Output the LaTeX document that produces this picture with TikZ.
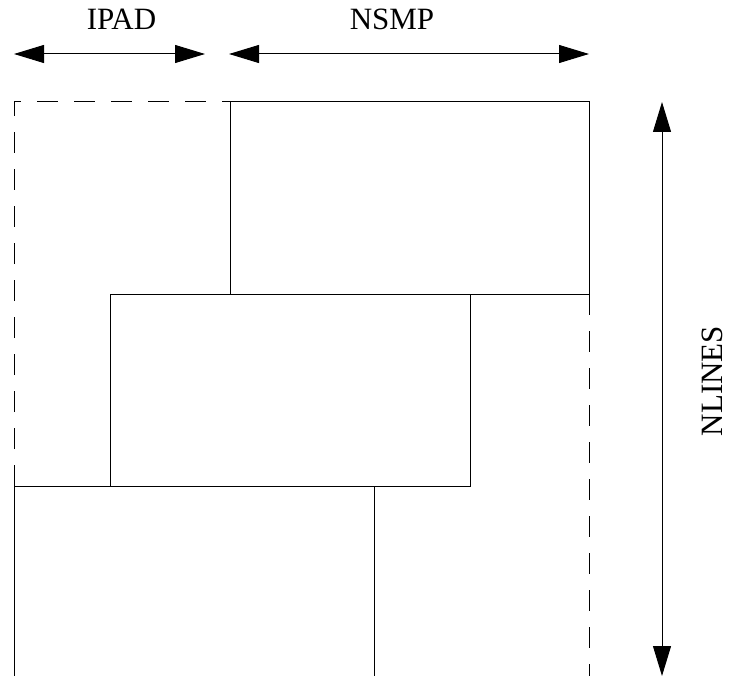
\documentclass[tikz,border=0pt]{standalone}
\usepackage{fontspec}
\setmainfont{Liberation Serif}
\usepackage{tikz}
\usetikzlibrary{arrows.meta}

\tikzset{
  dim/.style={{Triangle[length=30pt,width=18pt]}-{Triangle[length=30pt,width=18pt]}, line width=1pt},
  blk/.style={line width=1pt},
  pad/.style={line width=1pt, dash pattern=on 21pt off 16pt},
  lbl/.style={font=\fontsize{31}{36}\selectfont, inner sep=0pt, text depth=0pt}
}

\begin{document}
\begin{tikzpicture}[x=1pt,y=-1pt]
  \useasboundingbox (0,0) rectangle (730,676);

  % dimension arrows
  \coordinate (ipadL) at (14,54);
  \coordinate (ipadR) at (205,54);
  \coordinate (nsmpL) at (229,54);
  \coordinate (nsmpR) at (589,54);
  \coordinate (nlT) at (662,102);
  \coordinate (nlB) at (662,676);

  \draw[dim] (ipadL) -- (ipadR);
  \draw[dim] (nsmpL) -- (nsmpR);
  \draw[dim] (nlT) -- (nlB);

  \node[lbl] at (121.5,19.5) (ipad) {IPAD};
  \node[lbl] at (392,19.5) (nsmp) {NSMP};
  \node[lbl, rotate=90] at (712,381) (nlines) {NLINES};

  % padded area
  \draw[pad] (14,486) -- (14,102) -- (230,102);
  \draw[pad] (589,294) -- (589,676);

  % shifted lines
  \draw[blk] (230,102) rectangle (589,294);
  \draw[blk] (110,294) rectangle (470,486);
  \draw[blk] (14,676) -- (14,486) -- (374,486) -- (374,676);
\end{tikzpicture}
\end{document}
